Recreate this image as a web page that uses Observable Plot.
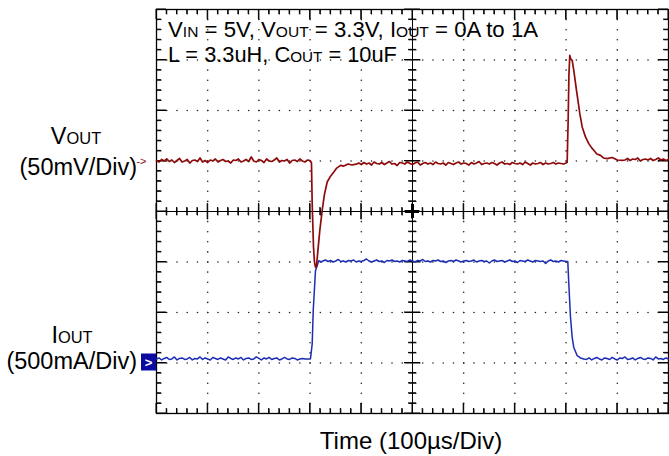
<!DOCTYPE html>
<html><head><meta charset="utf-8">
<script src="https://cdn.jsdelivr.net/npm/d3@7"></script>
<script src="https://cdn.jsdelivr.net/npm/@observablehq/plot@0.6"></script>
<style>body{margin:0;background:#fff} svg{display:block}</style>
</head><body><div id="chart"></div>
<script>
// ---- scope settings ----
const timePerDiv = 100;          // µs / div
const voutPerDiv = 50;           // mV / div
const ioutPerDiv = 0.5;          // A / div
const voutZeroDiv = 1;           // channel marker positions (div)
const ioutZeroDiv = -3;
const sampleStep = 5;            // µs between samples in the flat segments

// ---- VOUT (mV, relative to marker) ----
const voutBefore = [0.5,-1,1.5,0,2,-0.5,1,-1.5,0.5,2.5, -1,0,1.5,-2,0.5,1,-0.5,3,-1,0.5,
  -1.5,1,0,2,-1,0.5,1.5,-0.5,0,-2, 1,0.5,2,-1,0,1.5,-0.5,4,0,-1,
  1.5,0.5,-1.5,2,0,-0.5,1,3,-1,0.5, 0,1.5,-2,0.5,1,-0.5,2,0,-1,1]; // t = 0..295
const voutLoadT  = [300,302.7,304,306.6,308.5,310.5,312.5,315,319,323.6,328,333.4,340,346.3,352,359.4,366,374,382,392];
const voutLoadMv = [0.5,-2,-40,-85,-100,-105,-104,-90,-68.6,-48.8,-33,-20.8,-15,-10.9,-7,-4.3,-5,-3,-4,-2.8];
const voutLoaded = [-2,-3.5,-1.5,-3,-2,-4,-1,-2.5,-3,-1.5, -3.5,-2,-0.5,-3,-2.5,-4.5,-1.5,-2,-3,-1,
  -2.5,-3.5,-2,-1,-4,-2.5,-1.5,-3,-2,-3.5, -1,-2.5,-3,-2,-4,-1.5,-2.5,-3.5,-2,-1,
  -3,-2,-2.5,-4,-1.5,-3,-2,-0.5,-3.5,-2.5, -2,-3,-1.5,-2.5,-4,-2,-1,-3,-2.5,-3.5,
  -1.5,-2.5,-3,-2,-3.5,-1,-2.5,-4,-2,-3, -2.5,-1.5,-3.5,-2,-3,-2.5,-1.5,-3,-2,-2.5,
  -3,-2]; // t = 395..800
const voutReleaseT  = [802.1,804,805.5,807.2,809,811.9,815,820.3,826.8,831.4,837.9,844.3,850,854.1,860,867.2,873,880.3,890,900,910];
const voutReleaseMv = [-1.3,40,85,104.6,101,99.7,89.8,70,46.9,33.7,23.8,17.2,13,10.6,7,5.6,3,2.4,3.5,1,0.7];
const voutAfter = [1,2.5,0.5,2,1.5,3,0,1.5,2,1,2.5,0.5,1.5,3,1,2,0.5,1.5]; // t = 915..1000

// ---- IOUT (A) ----
const ioutBefore = [0.04,0.05,0.03,0.045,0.055,0.035,0.04,0.06,0.03,0.045,
  0.05,0.035,0.04,0.055,0.03,0.045,0.04,0.06,0.035,0.05,
  0.04,0.03,0.055,0.045,0.035,0.05,0.04,0.03,0.06,0.045,
  0.035,0.05,0.04,0.055,0.03,0.045,0.05,0.035,0.04,0.06,
  0.045,0.03,0.05,0.04,0.055,0.035,0.045,0.05,0.03,0.04,
  0.055,0.04,0.035,0.05,0.045,0.03,0.04,0.045,0.04,0.04]; // t = 0..295
const ioutRiseT = [300,300.8,304.1,306.1,310.5,317,322];
const ioutRiseA = [0.04,0.046,0.188,0.518,0.914,1.013,1.0];
const ioutHigh = [1.01,1.02,1.005,1.015,1.0,1.01,1.025,1.005,1.01,1.0,
  1.015,1.01,1.02,1.0,1.01,1.005,1.015,1.03,1.01,1.0,
  1.01,1.02,1.005,1.01,0.995,1.015,1.01,1.02,1.005,1.01,
  1.0,1.015,1.01,1.005,1.02,1.01,1.0,1.015,1.01,1.025,
  1.005,1.01,1.0,1.015,1.01,1.02,1.005,1.01,0.995,1.01,
  1.015,1.005,1.02,1.01,1.0,1.01,1.015,1.005,1.01,1.02,
  1.0,1.01,1.015,1.005,1.01,0.99,1.01,1.02,1.005,1.01,
  1.015,1.0,1.01,1.02,1.005,1.01,0.995,1.015,1.01,1.005,
  1.02,1.01,1.0,1.015,1.01,1.005,1.01,0.985,1.01,1.02,
  1.005,1.01,1.0,1.015,1.01,1.005]; // t = 325..800
const ioutFallT = [803.3,805.3,808.6,811.9,815,821.7,828,834.6];
const ioutFallA = [1.006,0.782,0.451,0.253,0.154,0.072,0.05,0.040];
const ioutAfter = [0.035,0.05,0.03,0.045,0.055,0.04,0.03,0.05,0.045,0.035,
  0.055,0.04,0.03,0.05,0.045,0.06,0.035,0.04,0.05,0.03,
  0.045,0.055,0.04,0.035,0.05,0.045,0.03,0.06,0.04,0.045,
  0.035,0.05,0.04]; // t = 840..1000

// ---- text ----
const noteLine1 = [["V"],["IN",1],[" = 5V, V"],["OUT",1],[" = 3.3V, I"],["OUT",1],[" = 0A to 1A"]];
const noteLine2 = [["L = 3.3uH, C"],["OUT",1],[" = 10uF"]];
const voutName = [["V"],["OUT",1]];
const voutScaleLabel = "(50mV/Div)";
const ioutName = [["I"],["OUT",1]];
const ioutScaleLabel = "(500mA/Div)";
const timeLabel = "Time (100µs/Div)";

// ---- build rows ----
const segFlat = (vals, t0) => vals.map((v, i) => ({t: t0 + i * sampleStep, v}));
const segPairs = (ts, vs) => ts.map((t, i) => ({t, v: vs[i]}));
const voutRows = [...segFlat(voutBefore, 0), ...segPairs(voutLoadT, voutLoadMv), ...segFlat(voutLoaded, 395),
  ...segPairs(voutReleaseT, voutReleaseMv), ...segFlat(voutAfter, 915)];
const ioutRows = [...segFlat(ioutBefore, 0), ...segPairs(ioutRiseT, ioutRiseA), ...segFlat(ioutHigh, 325),
  ...segPairs(ioutFallT, ioutFallA), ...segFlat(ioutAfter, 840)];

// ---- graticule ----
const W = 669, H = 456, mL = 156, mR = 1, mT = 9, mB = 43;
const xPerPx = 10 * timePerDiv / (W - mL - mR);
const yPerPx = 8 / (H - mT - mB);
const xMinor = d3.range(0, 51).map(k => k * timePerDiv / 5);
const yMinor = d3.range(0, 41).map(k => -4 + k * 0.2);
const isMajX = d => Math.abs(d / timePerDiv - Math.round(d / timePerDiv)) < 1e-6;
const isMajY = d => Math.abs(d - Math.round(d)) < 1e-6;
const gridX = [1,2,3,4,6,7,8,9].map(k => k * timePerDiv);
const gridY = [-3,-2,-1,1,2,3];
const dots = [
  ...gridX.flatMap(x => yMinor.slice(1, -1).map(y => ({x, y}))),
  ...gridY.flatMap(y => xMinor.slice(1, -1).map(x => ({x, y})))
];
const xMid = 5 * timePerDiv, xEnd = 10 * timePerDiv;
const tickSegs = [];
for (const x of xMinor) {
  const m = isMajX(x);
  const e = (m ? 10 : 5) * yPerPx, c = (m ? 8 : 4) * yPerPx;
  tickSegs.push({x1: x, x2: x, y1: -4, y2: -4 + e});
  tickSegs.push({x1: x, x2: x, y1: 4, y2: 4 - e});
  tickSegs.push({x1: x, x2: x, y1: -c, y2: c});
}
for (const y of yMinor) {
  const m = isMajY(y);
  const e = (m ? 10 : 5) * xPerPx, c = (m ? 8 : 4) * xPerPx;
  tickSegs.push({x1: 0, x2: e, y1: y, y2: y});
  tickSegs.push({x1: xEnd, x2: xEnd - e, y1: y, y2: y});
  tickSegs.push({x1: xMid - c, x2: xMid + c, y1: y, y2: y});
}
const K = "#000";

const plot = Plot.plot({
  width: W, height: H,
  marginLeft: mL, marginRight: mR, marginTop: mT, marginBottom: mB,
  style: {fontFamily: "Liberation Sans, Arial, sans-serif", background: "#fff"},
  x: {domain: [0, xEnd], axis: null},
  y: {domain: [-4, 4], axis: null},
  marks: [
    Plot.dot(dots, {x: "x", y: "y", r: 0.8, fill: "#222", stroke: null}),
    Plot.ruleY([0], {stroke: K, strokeWidth: 1}),
    Plot.ruleX([xMid], {stroke: K, strokeWidth: 1}),
    Plot.ruleY([0], {x1: xMid - 7 * xPerPx, x2: xMid + 7 * xPerPx, stroke: K, strokeWidth: 3}),
    Plot.ruleX([xMid], {y1: -7 * yPerPx, y2: 7 * yPerPx, stroke: K, strokeWidth: 3}),
    Plot.link(tickSegs, {x1: "x1", y1: "y1", x2: "x2", y2: "y2", stroke: K, strokeWidth: 1}),
    Plot.frame({stroke: K, strokeWidth: 1.3}),
    // traces
    Plot.line(ioutRows, {x: "t", y: d => ioutZeroDiv + d.v / ioutPerDiv, stroke: "#1c2cb4", strokeWidth: 1.5}),
    Plot.line(voutRows, {x: "t", y: d => voutZeroDiv + d.v / voutPerDiv, stroke: "#8e0b0b", strokeWidth: 1.7})
  ]
});
document.getElementById("chart").append(plot);

const svg = d3.select(plot);
const sx = plot.scale("x"), sy = plot.scale("y");

// graticule ticks, also placed through the plot's scales (kept under the traces)
const tickLayer = svg.insert("g", "[aria-label=line]").attr("aria-label", "graticule ticks");
tickLayer.selectAll("line").data(tickSegs).join("line")
  .attr("x1", d => sx.apply(d.x1)).attr("x2", d => sx.apply(d.x2))
  .attr("y1", d => sy.apply(d.y1)).attr("y2", d => sy.apply(d.y2))
  .attr("stroke", K).attr("stroke-width", 1);

const FONT = "Liberation Sans, Arial, sans-serif";
const subRatio = 0.7;
function addText(x, y, parts, size, anchor, fill) {
  const t = svg.append("text").attr("x", x).attr("y", y)
    .attr("font-family", FONT).attr("font-size", size)
    .attr("text-anchor", anchor || "start").attr("fill", fill || "#000");
  parts.forEach(p => {
    const ts = t.append("tspan").text(p[0]);
    if (p[1]) ts.attr("font-size", size * subRatio);
  });
  return t;
}
// annotation inside the screen
addText(168, 37, noteLine1, 22.2);
addText(168, 61.5, noteLine2, 21.8);
// channel labels
const yV = sy.apply(voutZeroDiv), yI = sy.apply(ioutZeroDiv);
addText(76, 144, voutName, 23.5, "middle");
addText(137, 175, [[voutScaleLabel]], 23.5, "end");
addText(72, 343, ioutName, 23.5, "middle");
addText(137, 369, [[ioutScaleLabel]], 23.5, "end");
// VOUT ground marker
svg.append("text").attr("x", 141.5).attr("y", yV + 4).attr("font-family", FONT)
  .attr("font-size", 11).attr("fill", "#8e0b0b").text("->");
// IOUT ground marker
svg.append("rect").attr("x", 141).attr("y", yI - 9).attr("width", 15).attr("height", 17).attr("fill", "#0a0aa0");
svg.append("text").attr("x", 148.5).attr("y", yI + 4.5).attr("font-family", FONT).attr("font-weight", "bold")
  .attr("font-size", 13).attr("text-anchor", "middle").attr("fill", "#fff").text(">");
// time label
addText(411, 449, [[timeLabel]], 24, "middle");
</script>
</body></html>
